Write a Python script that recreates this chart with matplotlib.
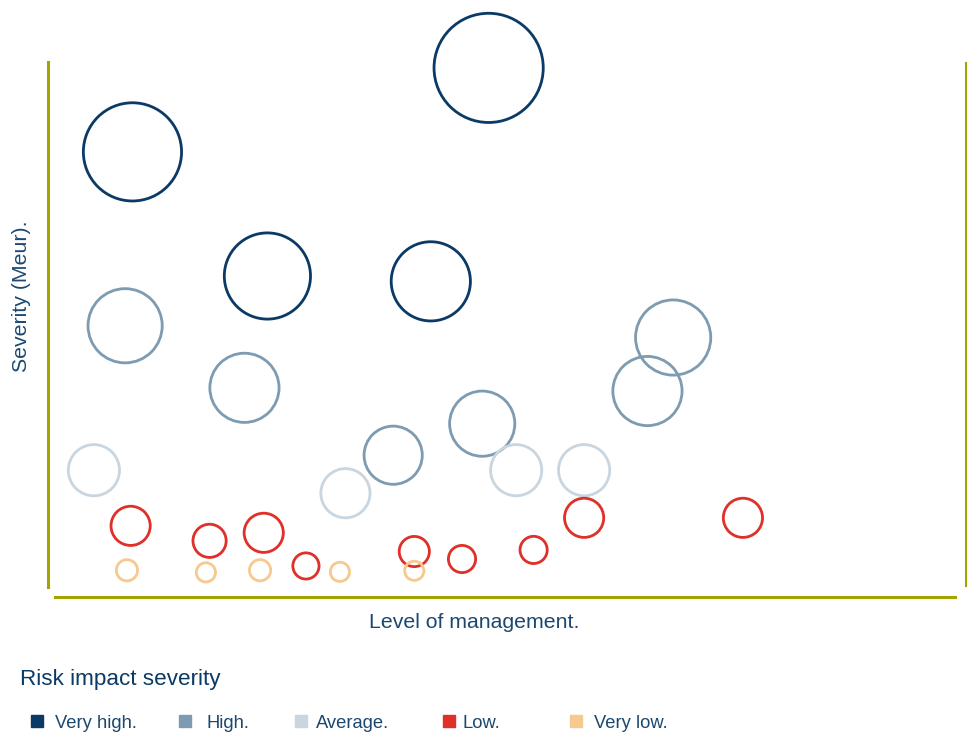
import matplotlib
matplotlib.use("Agg")
import matplotlib.pyplot as plt
from matplotlib.lines import Line2D

plt.rcParams['font.family'] = ['Liberation Sans', 'DejaVu Sans']

# ---- data ----
categories = ["Very high.", "High.", "Average.", "Low.", "Very low."]
colors = ["#0b3a66", "#7d9bb1", "#c9d6e0", "#e0302a", "#f6c98e"]

vh_x = [9.2, 48.0, 23.9, 41.7]
vh_y = [83.2, 98.9, 60.0, 59.0]
vh_r = [50.5, 56, 44.5, 41]

hi_x = [8.4, 21.4, 37.6, 47.3, 68.1, 65.3]
hi_y = [50.7, 39.1, 26.5, 32.4, 48.5, 38.5]
hi_r = [38.5, 36, 30.5, 34, 39, 36]

av_x = [5.0, 32.4, 51.0, 58.4]
av_y = [23.7, 19.4, 23.7, 23.7]
av_r = [27, 26, 27, 27]

lo_x = [9.0, 17.6, 23.5, 28.1, 39.9, 45.1, 52.9, 58.4, 75.7]
lo_y = [13.3, 10.5, 12.0, 5.8, 8.5, 7.1, 8.8, 14.8, 14.8]
lo_r = [21, 18, 21, 14.5, 16.5, 15, 15, 21, 21]

vl_x = [8.6, 17.2, 23.1, 31.8, 39.9]
vl_y = [5.0, 4.6, 5.0, 4.7, 4.9]
vl_r = [12, 11, 12, 11, 11]

series = [(vh_x, vh_y, vh_r), (hi_x, hi_y, hi_r), (av_x, av_y, av_r),
          (lo_x, lo_y, lo_r), (vl_x, vl_y, vl_r)]

DPI = 100
W, H = 967, 732
fig = plt.figure(figsize=(W / DPI, H / DPI), dpi=DPI)
fig.patch.set_facecolor("white")

# axes box in pixels: x 48..966, y 62..597 (top..bottom)
ax = fig.add_axes([48 / W, (H - 597) / H, (966 - 48) / W, (597 - 62) / H])
ax.set_xlim(0, 100)
ax.set_ylim(0, 100)
ax.set_axis_off()

LW_PX = 2.8
lw_pt = LW_PX * 72 / DPI
for (xs, ys, rs), col in zip(series, colors):
    s = [(2 * (r - LW_PX / 2) * 72 / DPI) ** 2 for r in rs]
    ax.scatter(xs, ys, s=s, facecolors="none", edgecolors=col,
               linewidths=lw_pt, clip_on=False, zorder=3)

olive = "#a4a400"
# frame lines (figure pixel coordinates)
def fline(x0, y0, x1, y1):
    fig.add_artist(Line2D([x0 / W, x1 / W], [1 - y0 / H, 1 - y1 / H],
                          color=olive, lw=2.2, transform=fig.transFigure))

fline(48, 62, 48, 587)
fline(966, 63, 966, 585)
fline(55, 597, 955, 597)

txt_col = "#1c4870"
fig.text(474 / W, 1 - 623 / H, "Level of management.", ha="center", va="center",
         fontsize=15.3, color=txt_col)
fig.text(22 / W, 1 - 296 / H, "Severity (Meur).", ha="center", va="center",
         rotation=90, fontsize=15.3, color=txt_col)

fig.text(20 / W, 1 - 680 / H, "Risk impact severity", ha="left", va="center",
         fontsize=16.2, color="#0b3a66")

sq_x = [37, 185, 301, 449, 576]
tx_x = [55, 207, 316, 463, 594]
for cat, col, sx, tx in zip(categories, colors, sq_x, tx_x):
    fig.add_artist(Line2D([sx / W], [1 - 721 / H], marker="s", markersize=8,
                          color=col, linestyle="none", transform=fig.transFigure))
    fig.text(tx / W, 1 - 723 / H, cat, ha="left", va="center", fontsize=13.2,
             color=txt_col)

fig.savefig("out.png", dpi=DPI)
